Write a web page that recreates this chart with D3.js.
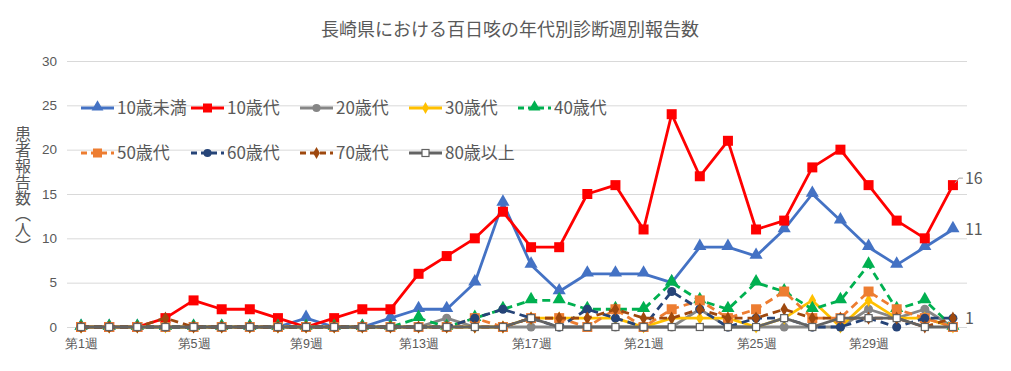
<!DOCTYPE html>
<html>
<head>
<meta charset="utf-8">
<script src="https://cdn.jsdelivr.net/npm/d3@7"></script>
<style>
  body { margin: 0; background: #fff; }
  svg { display: block; font-family: "Noto Sans CJK JP", "Noto Sans", sans-serif; }
  .grid line { stroke: #d9d9d9; stroke-width: 1; }
  .grid .domain { display: none; }
  .tick text { fill: #595959; }
</style>
</head>
<body>
<div id="chart"></div>
<script>
// --- data ---
const weeks = d3.range(1, 33).map(i => `第${i}週`);
const xTickLabels = ["第1週", "第5週", "第9週", "第13週", "第17週", "第21週", "第25週", "第29週"];
const yTicks = [0, 5, 10, 15, 20, 25, 30];

const under10 = [0,0,0,0,0,0,0,0,1,0,0,1,2,2,5,14,7,4,6,6,6,5,9,9,8,11,15,12,9,7,9,11];
const teens   = [0,0,0,1,3,2,2,1,0,1,2,2,6,8,10,13,9,9,15,16,11,24,17,21,11,12,18,20,16,12,10,16];
const twenties = [0,0,0,0,0,0,0,0,0,0,0,0,0,1,0,0,0,0,0,0,0,0,2,0,0,0,0,0,2,1,2,0];
const thirties = [0,0,0,0,0,0,0,0,0,0,0,0,0,0,0,0,1,1,1,1,0,1,1,1,0,1,3,0,3,1,1,0];
const forties  = [0,0,0,0,0,0,0,0,0,0,0,0,1,0,1,2,3,3,2,2,2,5,3,2,5,4,2,3,7,2,3,0];
const fifties  = [0,0,0,0,0,0,0,0,0,0,0,0,0,0,1,0,1,1,0,2,0,2,3,1,2,4,1,1,4,2,1,0];
const sixties  = [0,0,0,0,0,0,0,0,0,0,0,0,0,0,1,2,1,0,2,1,0,4,2,0,1,1,0,0,1,0,1,1];
const seventies = [0,0,0,1,0,0,0,0,0,0,0,0,0,0,0,0,1,1,1,2,1,1,2,1,1,2,1,1,1,1,0,1];
const over80   = [0,0,0,0,0,0,0,0,0,0,0,0,0,0,0,0,1,0,0,0,0,0,0,0,0,1,0,1,1,1,0,0];

const series = [
  { name: "10歳未満", values: under10,  color: "#4472C4", dash: null, marker: "triangle", label: true },
  { name: "10歳代",   values: teens,    color: "#FF0000", dash: null, marker: "square", label: true, leader: true },
  { name: "20歳代",   values: twenties, color: "#868686", dash: null, marker: "circle" },
  { name: "30歳代",   values: thirties, color: "#FFC000", dash: null, marker: "diamond" },
  { name: "40歳代",   values: forties,  color: "#00B050", dash: "8,5", marker: "triangle" },
  { name: "50歳代",   values: fifties,  color: "#ED7D31", dash: "8,5", marker: "square" },
  { name: "60歳代",   values: sixties,  color: "#264478", dash: "8,5", marker: "circle" },
  { name: "70歳代",   values: seventies, color: "#9E480E", dash: "8,5", marker: "diamond", label: true },
  { name: "80歳以上", values: over80,   color: "#636363", dash: null, marker: "open-square" }
];

// --- setup ---
const width = 1011, height = 371;
const margin = { left: 67, right: 44, top: 61, bottom: 44 };

const svg = d3.select("#chart").append("svg")
  .attr("width", width)
  .attr("height", height);

const x = d3.scalePoint()
  .domain(weeks)
  .range([margin.left, width - margin.right])
  .padding(0.5);

const y = d3.scaleLinear()
  .domain([0, 30])
  .range([height - margin.bottom, margin.top]);

// gridlines + y labels
svg.append("g")
  .attr("class", "grid")
  .attr("transform", `translate(${margin.left},0)`)
  .call(d3.axisLeft(y).tickValues(yTicks).tickSize(-(width - margin.left - margin.right)).tickPadding(10))
  .call(g => g.selectAll(".tick text").attr("font-size", 13.5));

// x labels
svg.append("g")
  .attr("transform", `translate(0,${height - margin.bottom})`)
  .call(d3.axisBottom(x).tickValues(xTickLabels).tickSize(0).tickPadding(12))
  .call(g => g.select(".domain").remove())
  .call(g => g.selectAll(".tick text").attr("font-size", 12.5));

// title
svg.append("text")
  .attr("x", 510)
  .attr("y", 36)
  .attr("text-anchor", "middle")
  .attr("font-size", 18)
  .attr("fill", "#595959")
  .text("長崎県における百日咳の年代別診断週別報告数");

// y-axis title (vertical)
svg.append("text")
  .attr("x", 23)
  .attr("y", 190)
  .attr("text-anchor", "middle")
  .attr("font-size", 16)
  .attr("fill", "#595959")
  .style("writing-mode", "vertical-rl")
  .style("text-orientation", "upright")
  .text("患者報告数（人）");

// --- markers ---
function drawMarker(sel, type, color, size) {
  if (type === "circle") {
    sel.append("circle").attr("r", size * 0.45).attr("fill", color);
  } else if (type === "square") {
    sel.append("rect").attr("x", -size / 2).attr("y", -size / 2)
      .attr("width", size).attr("height", size).attr("fill", color);
  } else if (type === "open-square") {
    sel.append("rect").attr("x", -3.5).attr("y", -3.5)
      .attr("width", 7).attr("height", 7)
      .attr("fill", "#fff").attr("stroke", color).attr("stroke-width", 1.2);
  } else if (type === "triangle") {
    sel.append("path").attr("d", d3.symbol(d3.symbolTriangle, size * size * 0.75)).attr("fill", color)
      .attr("transform", "translate(0,-1)");
  } else if (type === "diamond") {
    sel.append("path").attr("d", d3.symbol(d3.symbolDiamond, size * size * 0.5)).attr("fill", color);
  }
}

const line = d3.line()
  .x((d, i) => x(weeks[i]))
  .y(d => y(d));

const seriesGroup = svg.append("g").attr("class", "series");

series.forEach(s => {
  const g = seriesGroup.append("g");
  g.append("path")
    .attr("d", line(s.values))
    .attr("fill", "none")
    .attr("stroke", s.color)
    .attr("stroke-width", 2.8)
    .attr("stroke-linejoin", "round")
    .attr("stroke-dasharray", s.dash);

  s.values.forEach((v, i) => {
    const m = g.append("g").attr("transform", `translate(${x(weeks[i])},${y(v)})`);
    drawMarker(m, s.marker, s.color, 10);
  });
});

// data labels at last point
series.filter(s => s.label).forEach(s => {
  const last = s.values[s.values.length - 1];
  const px = x(weeks[weeks.length - 1]);
  const py = y(last);
  let ly = py;
  if (s.leader) {
    ly = py - 7;
    svg.append("path")
      .attr("d", `M${px + 2},${py - 2}L${px + 6},${ly}L${px + 10},${ly}`)
      .attr("fill", "none")
      .attr("stroke", "#a6a6a6")
      .attr("stroke-width", 1);
  }
  svg.append("text")
    .attr("x", px + 12)
    .attr("y", ly)
    .attr("dy", "0.35em")
    .attr("font-size", 16)
    .attr("fill", "#595959")
    .text(last);
});

// --- legend ---
const legendCols = [81, 191, 300, 409, 518];
const legendRows = [108, 153];

series.forEach((s, i) => {
  const row = i < 5 ? 0 : 1;
  const col = i < 5 ? i : i - 5;
  const lg = svg.append("g")
    .attr("transform", `translate(${legendCols[col]},${legendRows[row]})`);
  lg.append("line")
    .attr("x1", 0).attr("x2", 33)
    .attr("stroke", s.color)
    .attr("stroke-width", 2.8)
    .attr("stroke-dasharray", s.dash ? "6,4" : null);
  const m = lg.append("g").attr("transform", "translate(16.5,0)");
  drawMarker(m, s.marker, s.color, 9);
  lg.append("text")
    .attr("x", 36)
    .attr("dy", "0.35em")
    .attr("font-size", 17)
    .attr("fill", "#595959")
    .text(s.name);
});
</script>
</body>
</html>
